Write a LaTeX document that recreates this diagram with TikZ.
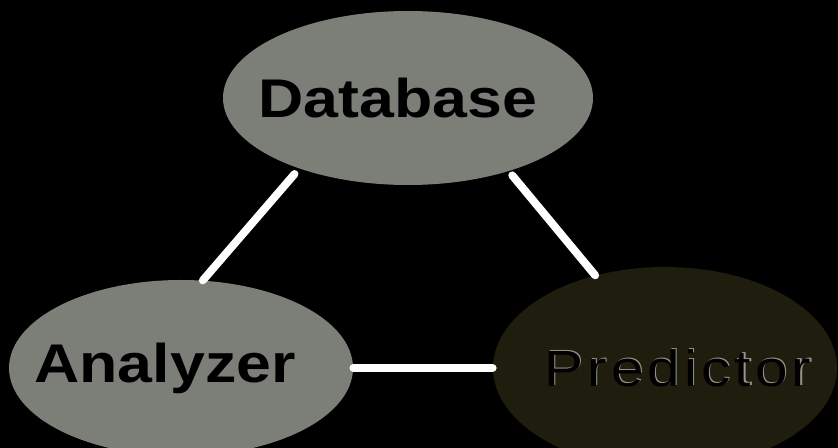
\documentclass[tikz,border=0pt]{standalone}
\usepackage{xcolor}
\usepackage{tikz}
\usetikzlibrary{shapes,positioning}
\usepackage{fontspec}
\setmainfont{Liberation Sans}
\newfontfamily\labelfont[FakeStretch=1.15]{Liberation Sans}
\newfontfamily\predfont[FakeStretch=1.15,LetterSpace=8]{Liberation Sans}
\definecolor{ovalgray}{RGB}{124,126,120}
\definecolor{ovaldark}{RGB}{31,29,13}
\definecolor{rimgray}{RGB}{150,150,140}
% text that does not widen the oval, moved sideways by #1
\newcommand{\ovaltext}[2]{\makebox[0pt]{\hspace*{#1}\hspace*{#1}#2}}

\begin{document}
\begin{tikzpicture}[font=\labelfont\fontsize{31}{36}\selectfont\bfseries,oval/.style={ellipse,draw=none,fill=ovalgray,inner sep=0pt,text=black},link/.style={line width=4.5pt,white,line cap=round}]
    % background and frame
    \fill[black] (0,0) rectangle (16.76,-8.96);
    \useasboundingbox (0,0) rectangle (16.76,-8.96);
    % Nodes
    \node[oval,minimum width=7.4cm,minimum height=3.48cm] at (8.16,-1.96) (db) {\ovaltext{-0.2cm}{Database}};
    \node[oval,minimum width=6.88cm,minimum height=3.52cm] at (3.62,-7.36) (ana) {\ovaltext{-0.32cm}{Analyzer}};
    \node[oval,fill=ovaldark,minimum width=6.88cm,minimum height=4.04cm,font=\predfont\fontsize{29}{34}\selectfont] at (13.3,-7.36) (pred) {\ovaltext{0.26cm}{\makebox[0pt][l]{\raisebox{0.5pt}{\hspace{0.6pt}\color{rimgray}Predictor}}Predictor}};
    
    \draw[link,shorten <=4pt] (db.213) -- (ana.76);
    \draw[link,shorten <=3pt] (db.324) -- (pred.127);
    \draw[link] (ana.east) -- (pred.west);
\end{tikzpicture}
\end{document}
